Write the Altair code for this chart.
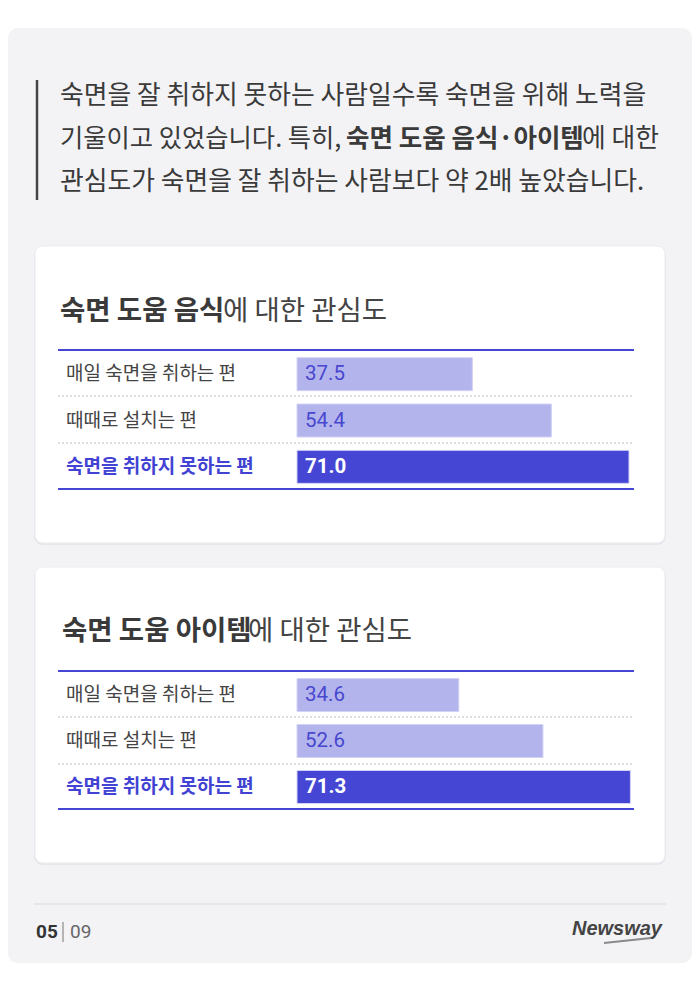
import altair as alt
import pandas as pd

# ---------------- data ----------------
categories = ["매일 숙면을 취하는 편", "때때로 설치는 편", "숙면을 취하지 못하는 편"]
highlight = "숙면을 취하지 못하는 편"
food_values = [37.5, 54.4, 71.0]
item_values = [34.6, 52.6, 71.3]

header_line1 = "숙면을 잘 취하지 못하는 사람일수록 숙면을 위해 노력을"
header_line2a = "기울이고 있었습니다. 특히,"
header_line2b = "숙면 도움 음식·아이템"
header_line2c = "에 대한"
header_line3 = "관심도가 숙면을 잘 취하는 사람보다 약 2배 높았습니다."
title1_bold = "숙면 도움 음식"
title2_bold = "숙면 도움 아이템"
title_rest = "에 대한 관심도"
page_cur = "05"
page_total = "09"
brand = "Newsway"

# ---------------- style ----------------
KR = "Noto Sans CJK KR"
DARK = "#4646d5"
LIGHT = "#b4b4ec"
TEXT = "#3a3a3a"
W, H = 684, 974

one = pd.DataFrame({"k": [0]})
base = alt.Chart(one)


def rect(x, x2, y, y2, fill, radius=0, stroke=None):
    kw = dict(fill=fill, cornerRadius=radius)
    if stroke:
        kw.update(stroke=stroke, strokeWidth=1)
    return base.mark_rect(**kw).encode(
        x=alt.value(x), x2=alt.value(x2), y=alt.value(y), y2=alt.value(y2)
    )


def rule(x, x2, y, y2, color, width=1, dash=None):
    kw = dict(color=color, strokeWidth=width)
    if dash:
        kw["strokeDash"] = dash
    return base.mark_rule(**kw).encode(
        x=alt.value(x), x2=alt.value(x2), y=alt.value(y), y2=alt.value(y2)
    )


def text(s, x, y, size, weight="normal", color=TEXT, font=KR, align="left", italic=False):
    kw = dict(text=s, font=font, fontSize=size, fontWeight=weight, color=color,
              align=align, baseline="middle")
    if italic:
        kw["fontStyle"] = "italic"
    return base.mark_text(**kw).encode(x=alt.value(x), y=alt.value(y))


static = [
    # page panel
    rect(0, 684, 20, 955, "#f3f3f6", radius=10),
    # cards (shadow + card)
    rect(26, 658, 239, 537, "#e6e6ea", radius=9),
    rect(27, 657, 238, 535, "#ffffff", radius=8, stroke="#ececf0"),
    rect(26, 658, 560, 857, "#e6e6ea", radius=9),
    rect(27, 657, 559, 855, "#ffffff", radius=8, stroke="#ececf0"),
    # header
    rule(29, 29, 72, 192, "#444444", width=2.5),
    text(header_line1, 52, 88, 25.8),
    text(header_line2a, 52, 131, 25.3),
    text(header_line2b, 338, 131, 25.5, weight="bold"),
    text(header_line2c, 574, 131, 25.8),
    text(header_line3, 52, 174, 25.8),
    # card titles
    text(title1_bold, 52, 304, 27.5, weight="bold"),
    text(title_rest, 215, 304, 27.5, color="#444444"),
    text(title2_bold, 54, 624, 27.5, weight="bold"),
    text(title_rest, 240, 624, 27.5, color="#444444"),
    # card 1 table lines
    rule(50, 626, 342, 342, DARK, width=2),
    rule(50, 626, 388, 388, "#bdbdbd", width=1, dash=[2, 2]),
    rule(50, 626, 435, 435, "#bdbdbd", width=1, dash=[2, 2]),
    rule(50, 626, 481, 481, DARK, width=2),
    # card 2 table lines
    rule(50, 626, 663, 663, DARK, width=2),
    rule(50, 626, 709, 709, "#bdbdbd", width=1, dash=[2, 2]),
    rule(50, 626, 756, 756, "#bdbdbd", width=1, dash=[2, 2]),
    rule(50, 626, 801, 801, DARK, width=2),
    # footer
    rule(26, 658, 896, 896, "#d9d9de", width=1),
    text(page_cur, 28, 924, 19, weight="bold", color="#333333", font="Roboto"),
    rule(55, 55, 914, 934, "#777777", width=1),
    text(page_total, 62, 924, 19, color="#666666", font="Roboto"),
    text(brand, 654, 921, 20, weight="bold", color="#444444", font="Liberation Sans",
         align="right", italic=True),
    rule(596, 643, 935, 930, "#8a8a8a", width=2),
]


def card(values, y_range):
    df = pd.DataFrame({"category": categories, "value": values})
    c = alt.Chart(df)
    yenc = alt.Y("category:N", sort=categories, axis=None,
                 scale=alt.Scale(domain=categories, range=y_range,
                                 paddingInner=0, paddingOuter=0))
    xenc = alt.X("value:Q", axis=None,
                 scale=alt.Scale(domain=[0, 100], range=[289, 756.6]))
    is_hi = alt.datum.category == highlight
    bars = c.mark_bar(height=33, stroke="#d2d2f6", strokeWidth=1).encode(
        x=xenc, y=yenc,
        color=alt.condition(is_hi, alt.value(DARK), alt.value(LIGHT)),
    )
    lab_norm = c.transform_filter(alt.datum.category != highlight).mark_text(
        align="left", baseline="middle", font=KR, fontSize=19, color="#444444"
    ).encode(x=alt.value(58), y=yenc, text="category:N")
    lab_hi = c.transform_filter(is_hi).mark_text(
        align="left", baseline="middle", font=KR, fontSize=19, fontWeight="bold",
        color="#4343d3"
    ).encode(x=alt.value(58), y=yenc, text="category:N")
    val_norm = c.transform_filter(alt.datum.category != highlight).mark_text(
        align="left", baseline="middle", font="Roboto", fontSize=20.5, color="#4747cf"
    ).encode(x=alt.value(297), y=yenc, text=alt.Text("value:Q", format=".1f"))
    val_hi = c.transform_filter(is_hi).mark_text(
        align="left", baseline="middle", font="Roboto", fontSize=20.5, fontWeight="bold",
        color="#ffffff"
    ).encode(x=alt.value(297), y=yenc, text=alt.Text("value:Q", format=".1f"))
    return alt.layer(bars, lab_norm, lab_hi, val_norm, val_hi)


card1 = card(food_values, [343, 482])
card2 = card(item_values, [664, 802])

chart = alt.layer(*static, card1, card2).resolve_scale(y="independent").properties(
    width=W, height=H, autosize=alt.AutoSizeParams(type="none"), padding=0,
    background="#ffffff"
).configure_view(stroke=None)

chart.save("out.html", embed_options={"renderer": "svg", "actions": False})
